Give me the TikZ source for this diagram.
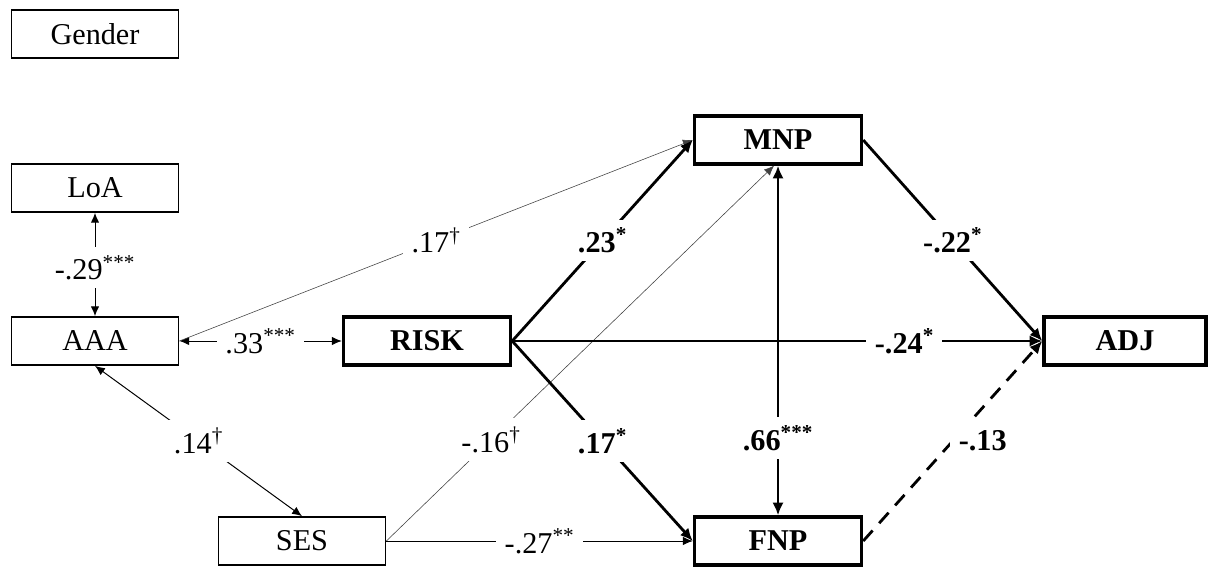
\documentclass[tikz,border=0pt]{standalone}
\usepackage{fontspec}
\setmainfont{Liberation Serif}
\usetikzlibrary{arrows.meta}

\begin{document}
\begin{tikzpicture}[x=0.025cm, y=-0.025cm,
    font=\fontsize{21.5}{25}\selectfont,
    box/.style={draw, rectangle, line width=1.2pt, minimum width=4.175cm, minimum height=1.2cm, inner sep=0pt},
    boldbox/.style={box, line width=2.4pt, font=\fontsize{21.5}{25}\selectfont\bfseries},
    coef/.style={fill=white, inner sep=6pt},
    boldcoef/.style={coef, font=\fontsize{21.5}{25}\selectfont\bfseries},
    thinpath/.style={line width=0.7pt, >={Latex[length=7pt,width=6pt]}},
    faintpath/.style={line width=0.4pt, draw=black!75, >={Latex[length=7pt,width=6pt]}},
    thickpath/.style={line width=2pt, >={Latex[length=9pt,width=8pt]}},
    dashpath/.style={thickpath, dash pattern=on 10pt off 7pt}]
    \useasboundingbox (0,0) rectangle (1208,567);

    % boxes
    \node[box] (gender) at (95,34) {Gender};
    \node[box] (loa) at (95,188) {LoA};
    \node[box] (aaa) at (95,341) {AAA};
    \node[box] (ses) at (302,541) {SES};
    \node[boldbox] (risk) at (427,341) {RISK};
    \node[boldbox] (mnp) at (778,140) {MNP};
    \node[boldbox] (fnp) at (778,541) {FNP};
    \node[boldbox, minimum width=4.05cm] (adj) at (1125,341) {ADJ};

    % thin paths
    \draw[thinpath, <->] (aaa) -- node[coef, pos=0.47] {-.29\textsuperscript{***}} (loa);
    \draw[thinpath, <->] (aaa) -- node[coef] {.33\textsuperscript{***}} (risk);
    \draw[thinpath, <->] (aaa.south) -- node[coef] {.14\textsuperscript{\textdagger}} (ses.north);
    \draw[faintpath, ->] (aaa.east) -- node[coef] {.17\textsuperscript{\textdagger}} (mnp.west);
    \draw[faintpath, ->] (ses.east) -- node[coef, pos=0.27] {-.16\textsuperscript{\textdagger}} ([xshift=-0.1cm]mnp.south);
    \draw[thinpath, ->] (ses) -- node[coef] {-.27\textsuperscript{**}} (fnp);

    % thick paths
    \draw[thickpath, ->] (risk.east) -- node[boldcoef] {.23\textsuperscript{*}} (mnp.west);
    \draw[thickpath, ->] (risk.east) -- node[boldcoef, pos=0.74] {-.24\textsuperscript{*}} (adj.west);
    \draw[thickpath, ->] (risk.east) -- node[boldcoef] {.17\textsuperscript{*}} (fnp.west);
    \draw[thickpath, <->] (fnp) -- node[boldcoef, pos=0.22] {.66\textsuperscript{***}} (mnp);
    \draw[thickpath, ->] (mnp.east) -- node[boldcoef] {-.22\textsuperscript{*}} (adj.west);
    \draw[dashpath, ->] (fnp.east) -- node[boldcoef, xshift=0.75cm] {-.13} (adj.west);
\end{tikzpicture}
\end{document}
